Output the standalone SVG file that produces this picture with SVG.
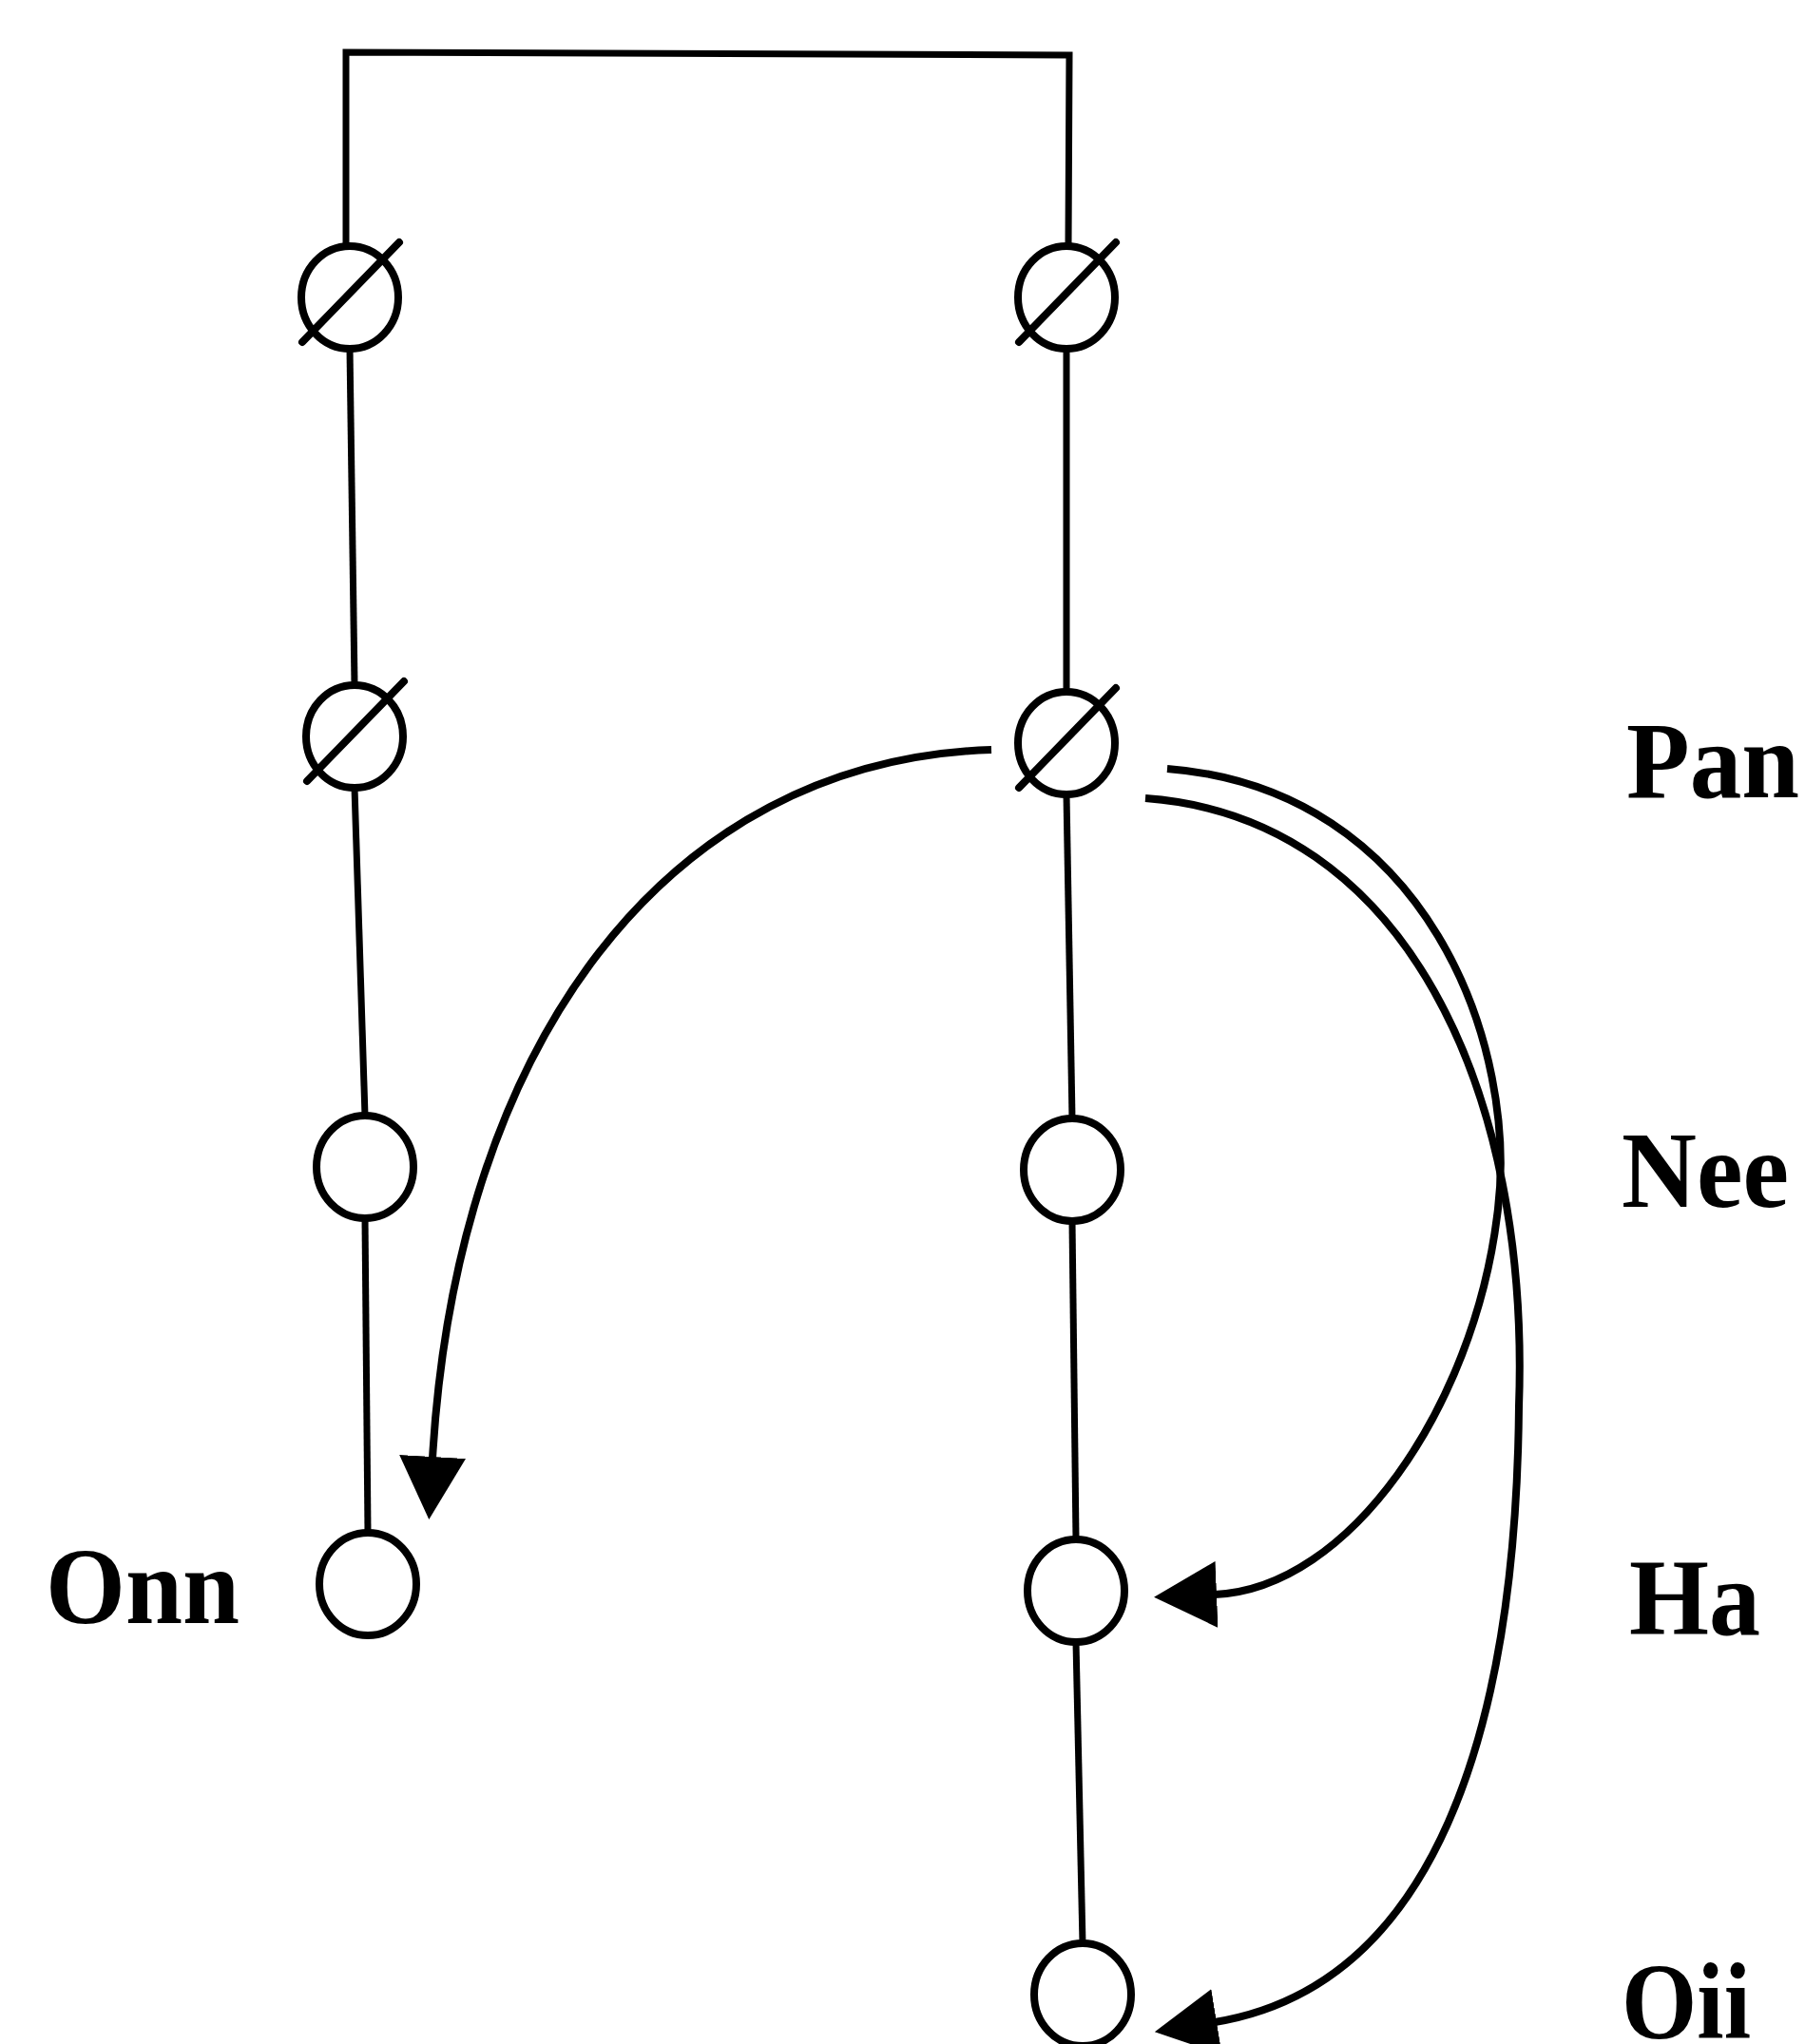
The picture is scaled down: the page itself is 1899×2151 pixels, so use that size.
<svg xmlns="http://www.w3.org/2000/svg" width="1899" height="2151" viewBox="0 0 1899 2151">
<style>
.n{fill:#fff;stroke:#000;stroke-width:8}
.sl{stroke:#000;stroke-width:8;stroke-linecap:round}
.ln{fill:none;stroke:#000;stroke-width:7}
.arc{fill:none;stroke:#000;stroke-width:8}
.lbl{font-family:"Liberation Serif","Times New Roman",serif;font-weight:bold;font-size:114px;fill:#000}
</style>
<defs>
<marker id="ah" markerUnits="userSpaceOnUse" markerWidth="66" markerHeight="70" viewBox="0 0 66 70" refX="2" refY="35" orient="auto">
<path d="M0,0 L66,35 L0,70 Z" fill="#000"/>
</marker>
</defs>
<rect width="1899" height="2151" fill="#fff"/>
<g id="connectors">
<path class="ln" d="M364,259 L364,55 L1125,58 L1124,259"/>
<path class="ln" d="M368,367 L373,721"/>
<path class="ln" d="M373,829 L384,1174"/>
<path class="ln" d="M384,1282 L387,1613"/>
<path class="ln" d="M1122,367 L1122,728"/>
<path class="ln" d="M1122,836 L1128,1177"/>
<path class="ln" d="M1128,1285 L1132,1620"/>
<path class="ln" d="M1132,1728 L1139,2045"/>
<path class="arc" marker-end="url(#ah)" d="M1043,789 C700,800 480,1100 455,1535"/>
<path class="arc" marker-end="url(#ah)" d="M1228,809 C1500,830 1600,1100 1575,1280 C1550,1480 1420,1672 1278,1678"/>
<path class="arc" marker-end="url(#ah)" d="M1205,840 C1480,860 1610,1150 1598,1480 C1595,1820 1510,2090 1278,2128"/>
</g>
<g id="L1"><ellipse class="n" cx="368" cy="313" rx="51" ry="54"/><line class="sl" x1="318" y1="360" x2="420" y2="255"/></g>
<g id="L2"><ellipse class="n" cx="373" cy="775" rx="51" ry="54"/><line class="sl" x1="323" y1="822" x2="425" y2="717"/></g>
<g id="L3"><ellipse class="n" cx="384" cy="1228" rx="51" ry="54"/></g>
<g id="L4"><ellipse class="n" cx="387" cy="1667" rx="51" ry="54"/></g>
<g id="R1"><ellipse class="n" cx="1122" cy="313" rx="51" ry="54"/><line class="sl" x1="1072" y1="360" x2="1174" y2="255"/></g>
<g id="R2"><ellipse class="n" cx="1122" cy="782" rx="51" ry="54"/><line class="sl" x1="1072" y1="829" x2="1174" y2="724"/></g>
<g id="R3"><ellipse class="n" cx="1128" cy="1231" rx="51" ry="54"/></g>
<g id="R4"><ellipse class="n" cx="1132" cy="1674" rx="51" ry="54"/></g>
<g id="R5"><ellipse class="n" cx="1139" cy="2099" rx="51" ry="54"/></g>
<g id="labels">
<text class="lbl" x="1711" y="839" textLength="182" lengthAdjust="spacingAndGlyphs">Pan</text>
<text class="lbl" x="1706" y="1270" textLength="176" lengthAdjust="spacingAndGlyphs">Nee</text>
<text class="lbl" x="1714" y="1720" textLength="138" lengthAdjust="spacingAndGlyphs">Ha</text>
<text class="lbl" x="1706" y="2145" textLength="136" lengthAdjust="spacingAndGlyphs">Oii</text>
<text class="lbl" x="48" y="1708" textLength="204" lengthAdjust="spacingAndGlyphs">Onn</text>
</g>
</svg>
